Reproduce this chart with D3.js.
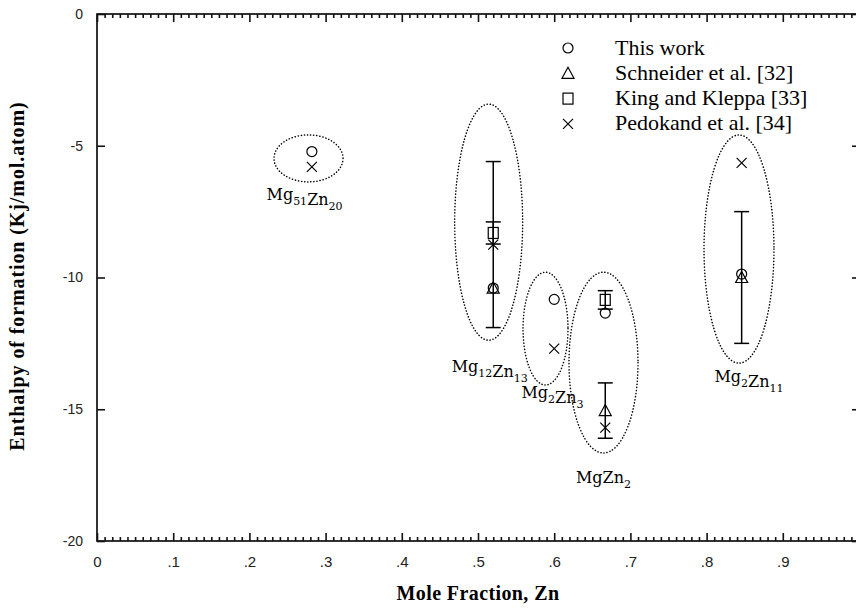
<!DOCTYPE html>
<html>
<head>
<meta charset="utf-8">
<script src="https://cdn.jsdelivr.net/npm/d3@7"></script>
<style>
  html, body { margin: 0; padding: 0; background: #fff; }
  svg { display: block; }
</style>
</head>
<body>
<svg id="chart" width="856" height="609"></svg>
<script>
// Enthalpy of formation of Mg–Zn intermetallics (kJ/mol.atom) vs Zn mole fraction

const xTickValues = [0, 0.1, 0.2, 0.3, 0.4, 0.5, 0.6, 0.7, 0.8, 0.9];
const xTickLabels = ["0", ".1", ".2", ".3", ".4", ".5", ".6", ".7", ".8", ".9"];
const yTickValues = [0, -5, -10, -15, -20];
const yTickLabels = ["0", "-5", "-10", "-15", "-20"];

const seriesNames = ["This work", "Schneider et al. [32]", "King and Kleppa [33]", "Pedokand et al. [34]"];
const seriesSymbols = ["circle", "triangle", "square", "cross"];

// [x, enthalpy, error]
const thisWork  = [[0.282, -5.22, 0], [0.52, -10.4, 0], [0.6, -10.83, 0], [0.667, -11.35, 0], [0.846, -9.87, 0]];
const schneider = [[0.52, -10.4, 0], [0.667, -15.05, 1.05], [0.846, -10.0, 2.5]];
const kingKleppa = [[0.52, -8.31, 0.42], [0.667, -10.85, 0.35]];
const pedokand  = [[0.282, -5.8, 0], [0.52, -8.75, 3.15], [0.6, -12.7, 0], [0.667, -15.7, 0], [0.846, -5.65, 0]];

const seriesData = [thisWork, schneider, kingKleppa, pedokand];

// Phase groups: formula parts, enclosing ellipse (data units)
const phaseFormulas = [
  [["Mg", "51"], ["Zn", "20"]],
  [["Mg", "12"], ["Zn", "13"]],
  [["Mg", "2"], ["Zn", "3"]],
  [["Mg", ""], ["Zn", "2"]],
  [["Mg", "2"], ["Zn", "11"]]
];
const phaseCx = [0.2776, 0.514, 0.5886, 0.6647, 0.8425];
const phaseCy = [-5.48, -7.9, -11.94, -13.23, -8.92];
const phaseRx = [0.0453, 0.0446, 0.0295, 0.0453, 0.0459];
const phaseRy = [0.892, 4.48, 2.14, 3.43, 4.33];
// label placement relative to ellipse bottom/centre (px)
const labelDx = [-4, 1, 7, 0, 10];
const labelDy = [18, 32, 13, 30, 19];

const svg = d3.select("#chart");
const margin = { left: 97, top: 14, bottom: 541, right: 859 };

const x = d3.scaleLinear().domain([0, 1]).range([margin.left, margin.right]);
const y = d3.scaleLinear().domain([-20, 0]).range([margin.bottom, margin.top]);

const ink = "#000";

// ---- frame ----
svg.append("rect")
  .attr("x", margin.left).attr("y", margin.top)
  .attr("width", margin.right - margin.left).attr("height", margin.bottom - margin.top)
  .attr("fill", "none").attr("stroke", ink).attr("stroke-width", 1.6);

const xMinor = d3.range(0, 100).filter(i => i % 10 !== 0).map(i => i / 100);

function styleAxis(g) {
  g.select(".domain").remove();
  g.selectAll(".tick line")
    .attr("stroke", "#111").attr("stroke-width", 1.6);
}

// bottom axis: minor + major ticks pointing into the plot
svg.append("g").attr("transform", `translate(0,${margin.bottom})`)
  .call(d3.axisBottom(x).tickValues(xMinor).tickSize(-4).tickFormat(() => ""))
  .call(styleAxis);
const gBottom = svg.append("g").attr("transform", `translate(0,${margin.bottom})`)
  .call(d3.axisBottom(x).tickValues(xTickValues).tickSize(-8).tickPadding(15)
    .tickFormat((d, i) => xTickLabels[i]))
  .call(styleAxis);
gBottom.selectAll("text")
  .attr("font-family", "Liberation Sans, Arial, sans-serif").attr("font-size", 15).attr("fill", "#222");

// top axis
svg.append("g").attr("transform", `translate(0,${margin.top})`)
  .call(d3.axisTop(x).tickValues(xMinor).tickSize(-4).tickFormat(() => ""))
  .call(styleAxis);
svg.append("g").attr("transform", `translate(0,${margin.top})`)
  .call(d3.axisTop(x).tickValues(xTickValues).tickSize(-8).tickFormat(() => ""))
  .call(styleAxis);

// left axis
const gLeft = svg.append("g").attr("transform", `translate(${margin.left},0)`)
  .call(d3.axisLeft(y).tickValues(yTickValues).tickSize(-8).tickPadding(14)
    .tickFormat((d, i) => yTickLabels[i]))
  .call(styleAxis);
gLeft.selectAll("text")
  .attr("font-family", "Liberation Sans, Arial, sans-serif").attr("font-size", 14).attr("fill", "#222");

// right axis
svg.append("g").attr("transform", `translate(${margin.right},0)`)
  .call(d3.axisRight(y).tickValues(yTickValues).tickSize(-7).tickFormat(() => ""))
  .call(styleAxis);

// ---- axis titles ----
svg.append("text")
  .attr("x", 478).attr("y", 600)
  .attr("text-anchor", "middle")
  .attr("font-family", "Liberation Serif, Times New Roman, serif")
  .attr("font-weight", "bold").attr("font-size", 20)
  .attr("letter-spacing", 0.4)
  .text("Mole Fraction, Zn");

svg.append("text")
  .attr("transform", "translate(24,276) rotate(-90)")
  .attr("text-anchor", "middle")
  .attr("font-family", "Liberation Serif, Times New Roman, serif")
  .attr("font-weight", "bold").attr("font-size", 20)
  .attr("letter-spacing", 0.9)
  .text("Enthalpy of formation (Kj/mol.atom)");

// ---- phase ellipses and labels ----
const phases = svg.append("g");
phaseFormulas.forEach((parts, i) => {
  const cx = x(phaseCx[i]), cy = y(phaseCy[i]);
  const rx = x(phaseCx[i] + phaseRx[i]) - cx;
  const ry = y(phaseCy[i] - phaseRy[i]) - cy;
  phases.append("ellipse")
    .attr("cx", cx).attr("cy", cy).attr("rx", rx).attr("ry", ry)
    .attr("fill", "none").attr("stroke", ink).attr("stroke-width", 1.5)
    .attr("stroke-linecap", "round")
    .attr("stroke-dasharray", "0.2,2.9");
  const t = phases.append("text")
    .attr("x", cx + labelDx[i]).attr("y", cy + ry + labelDy[i])
    .attr("text-anchor", "middle")
    .attr("font-family", "DejaVu Serif, serif").attr("font-size", 16);
  parts.forEach(([el, sub]) => {
    t.append("tspan").text(el);
    if (sub) {
      t.append("tspan").attr("font-size", 11).attr("dy", 5).text(sub);
      t.append("tspan").attr("font-size", 16).attr("dy", -5).text("");
    }
  });
});

// ---- marker shapes ----
function marker(g, kind, px, py) {
  if (kind === "circle") {
    g.append("circle").attr("cx", px).attr("cy", py).attr("r", 5);
  } else if (kind === "triangle") {
    g.append("path").attr("d", `M${px},${py - 6}L${px + 6},${py + 5}L${px - 6},${py + 5}Z`);
  } else if (kind === "square") {
    g.append("rect").attr("x", px - 5).attr("y", py - 5.5).attr("width", 10).attr("height", 11);
  } else {
    g.append("path").attr("d", `M${px - 5},${py - 5}L${px + 5},${py + 5}M${px - 5},${py + 5}L${px + 5},${py - 5}`);
  }
}

// ---- error bars ----
const errs = svg.append("g").attr("stroke", ink).attr("stroke-width", 1.5).attr("fill", "none");
seriesData.forEach(series => {
  series.filter(d => d[2] > 0).forEach(([xv, yv, e]) => {
    const px = x(xv), top = y(yv + e), bot = y(yv - e);
    errs.append("line").attr("x1", px).attr("x2", px).attr("y1", top).attr("y2", bot);
    errs.append("line").attr("x1", px - 7.5).attr("x2", px + 7.5).attr("y1", top).attr("y2", top);
    errs.append("line").attr("x1", px - 7.5).attr("x2", px + 7.5).attr("y1", bot).attr("y2", bot);
  });
});

// ---- points ----
const pts = svg.append("g").attr("stroke", ink).attr("stroke-width", 1.2).attr("fill", "none");
seriesData.forEach((series, si) => {
  series.forEach(([xv, yv]) => marker(pts, seriesSymbols[si], x(xv), y(yv)));
});

// ---- legend ----
const legend = svg.append("g");
const legendSym = legend.append("g").attr("stroke", ink).attr("stroke-width", 1.2).attr("fill", "none");
seriesNames.forEach((name, i) => {
  const cy = 48 + i * 25.3;
  marker(legendSym, seriesSymbols[i], 568, cy);
  legend.append("text")
    .attr("x", 615).attr("y", cy + 6.5)
    .attr("font-family", "Liberation Serif, Times New Roman, serif")
    .attr("font-size", 22)
    .text(name);
});
</script>
</body>
</html>
